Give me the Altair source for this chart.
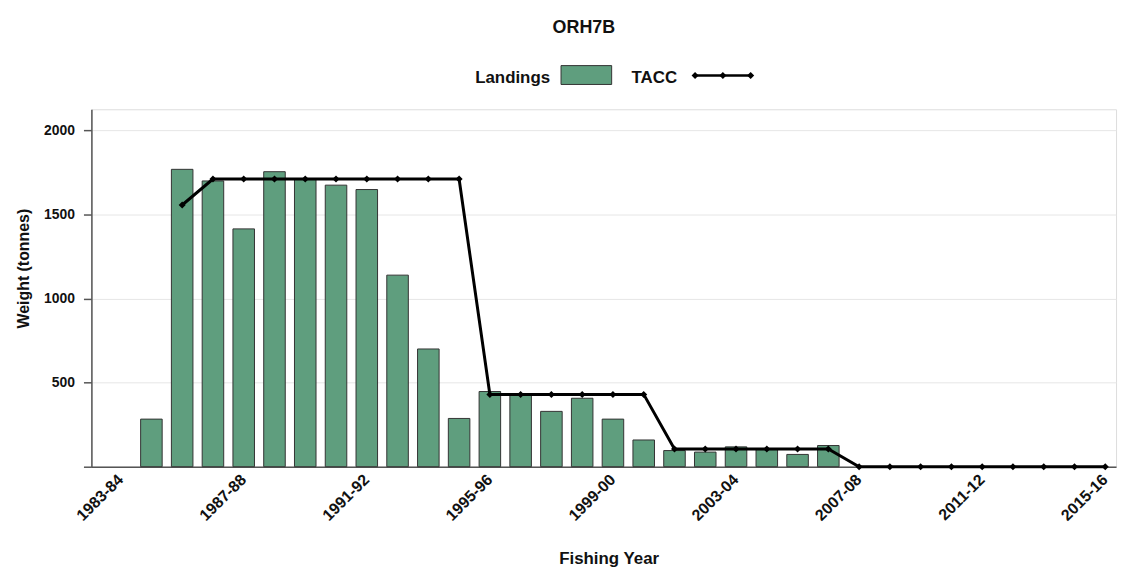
import altair as alt
import pandas as pd

years = ["1983-84", "1984-85", "1985-86", "1986-87", "1987-88", "1988-89", "1989-90",
         "1990-91", "1991-92", "1992-93", "1993-94", "1994-95", "1995-96", "1996-97",
         "1997-98", "1998-99", "1999-00", "2000-01", "2001-02", "2002-03", "2003-04",
         "2004-05", "2005-06", "2006-07", "2007-08", "2008-09", "2009-10", "2010-11",
         "2011-12", "2012-13", "2013-14", "2014-15", "2015-16"]

landings = [None, 283, 1768, 1699, 1414, 1754, 1712, 1674, 1648, 1139, 700, 287,
            447, 430, 329, 407, 283, 159, 96, 87, 118, 102, 73, 126,
            None, None, None, None, None, None, None, None, None]

tacc = [None, None, 1556, 1710, 1710, 1710, 1710, 1710, 1710, 1710, 1710, 1710,
        430, 430, 430, 430, 430, 430, 105, 105, 105, 105, 105, 105,
        0, 0, 0, 0, 0, 0, 0, 0, 0]

tick_labels = ["1983-84", "1987-88", "1991-92", "1995-96", "1999-00", "2003-04",
               "2007-08", "2011-12", "2015-16"]
y_ticks = [0, 500, 1000, 1500, 2000]

FONT = "Liberation Sans"
GREEN = "#5f9e7e"
EDGE = "#333333"

df = pd.DataFrame({"year": years, "landings": landings, "tacc": tacc})
one = pd.DataFrame({"label": ["Landings"]})
one2 = pd.DataFrame({"label": ["TACC"]})

xscale = alt.Scale(domain=years, paddingInner=0.3, paddingOuter=0.3, align=1)
yscale = alt.Scale(domain=[0, 2125], nice=False)

xaxis = alt.Axis(values=tick_labels, labelAngle=-45, labelAlign="right", labelBaseline="middle",
                 labelFontSize=16, labelFontWeight="bold", labelFont=FONT, labelColor="#111",
                 labelPadding=10, ticks=False, grid=False, domainColor="#555", domainWidth=1.5,
                 title="Fishing Year", titleFontSize=17, titleFontWeight="bold", titleFont=FONT,
                 titleColor="#111", titleBaseline="alphabetic", titleX=521, titleY=97)
yaxis = alt.Axis(values=y_ticks, format="d", labelExpr="datum.value == 0 ? '' : datum.label",
                 labelFontSize=14, labelFontWeight="bold", labelFont=FONT, labelColor="#111",
                 labelPadding=9, tickSize=8, tickColor="#555", tickWidth=1.5,
                 domainColor="#555", domainWidth=1.5, grid=True, gridColor="#e6e6e6", gridWidth=1,
                 title="Weight (tonnes)", titleFontSize=16, titleFontWeight="bold", titleFont=FONT,
                 titleColor="#111", titleX=-60, titleY=160)

bars = alt.Chart(df).mark_bar(color=GREEN, stroke=EDGE, strokeWidth=1).encode(
    x=alt.X("year:N", sort=years, scale=xscale, axis=xaxis),
    y=alt.Y("landings:Q", scale=yscale, axis=yaxis),
)

line = alt.Chart(df).mark_line(
    color="black", strokeWidth=3,
    point=alt.OverlayMarkDef(shape="diamond", size=50, filled=True, color="black", opacity=1),
).encode(
    x=alt.X("year:N", sort=years),
    y=alt.Y("tacc:Q"),
)

leg_text1 = alt.Chart(one).mark_text(align="right", baseline="alphabetic", fontSize=17,
                                     fontWeight="bold", font=FONT, color="#111").encode(
    x=alt.value(462), y=alt.value(-26), text="label:N")
leg_rect = alt.Chart(one).mark_rect(color=GREEN, stroke=EDGE, strokeWidth=1).encode(
    x=alt.value(473), x2=alt.value(524), y=alt.value(-44), y2=alt.value(-25))
leg_text2 = alt.Chart(one2).mark_text(align="left", baseline="alphabetic", fontSize=17,
                                      fontWeight="bold", font=FONT, color="#111").encode(
    x=alt.value(544), y=alt.value(-26), text="label:N")
leg_rule = alt.Chart(one2).mark_rule(color="black", strokeWidth=2.5).encode(
    x=alt.value(608), x2=alt.value(664), y=alt.value(-34))
leg_pts = [
    alt.Chart(one2).mark_point(shape="diamond", size=50, filled=True, color="black", opacity=1).encode(
        x=alt.value(px), y=alt.value(-34))
    for px in (608, 636, 664)
]

chart = alt.layer(bars, line, leg_text1, leg_rect, leg_text2, leg_rule, *leg_pts).properties(
    width=1032, height=360,
    title=alt.TitleParams("ORH7B", fontSize=18, fontWeight="bold", font=FONT, color="#111",
                          anchor="middle", offset=28, dx=-20),
    autosize=alt.AutoSizeParams(type="none"),
    padding={"left": 84, "top": 100, "right": 5, "bottom": 100},
).configure_view(strokeWidth=0).configure(background="white")

chart.save("out.html", embed_options={"renderer": "svg", "actions": False})
